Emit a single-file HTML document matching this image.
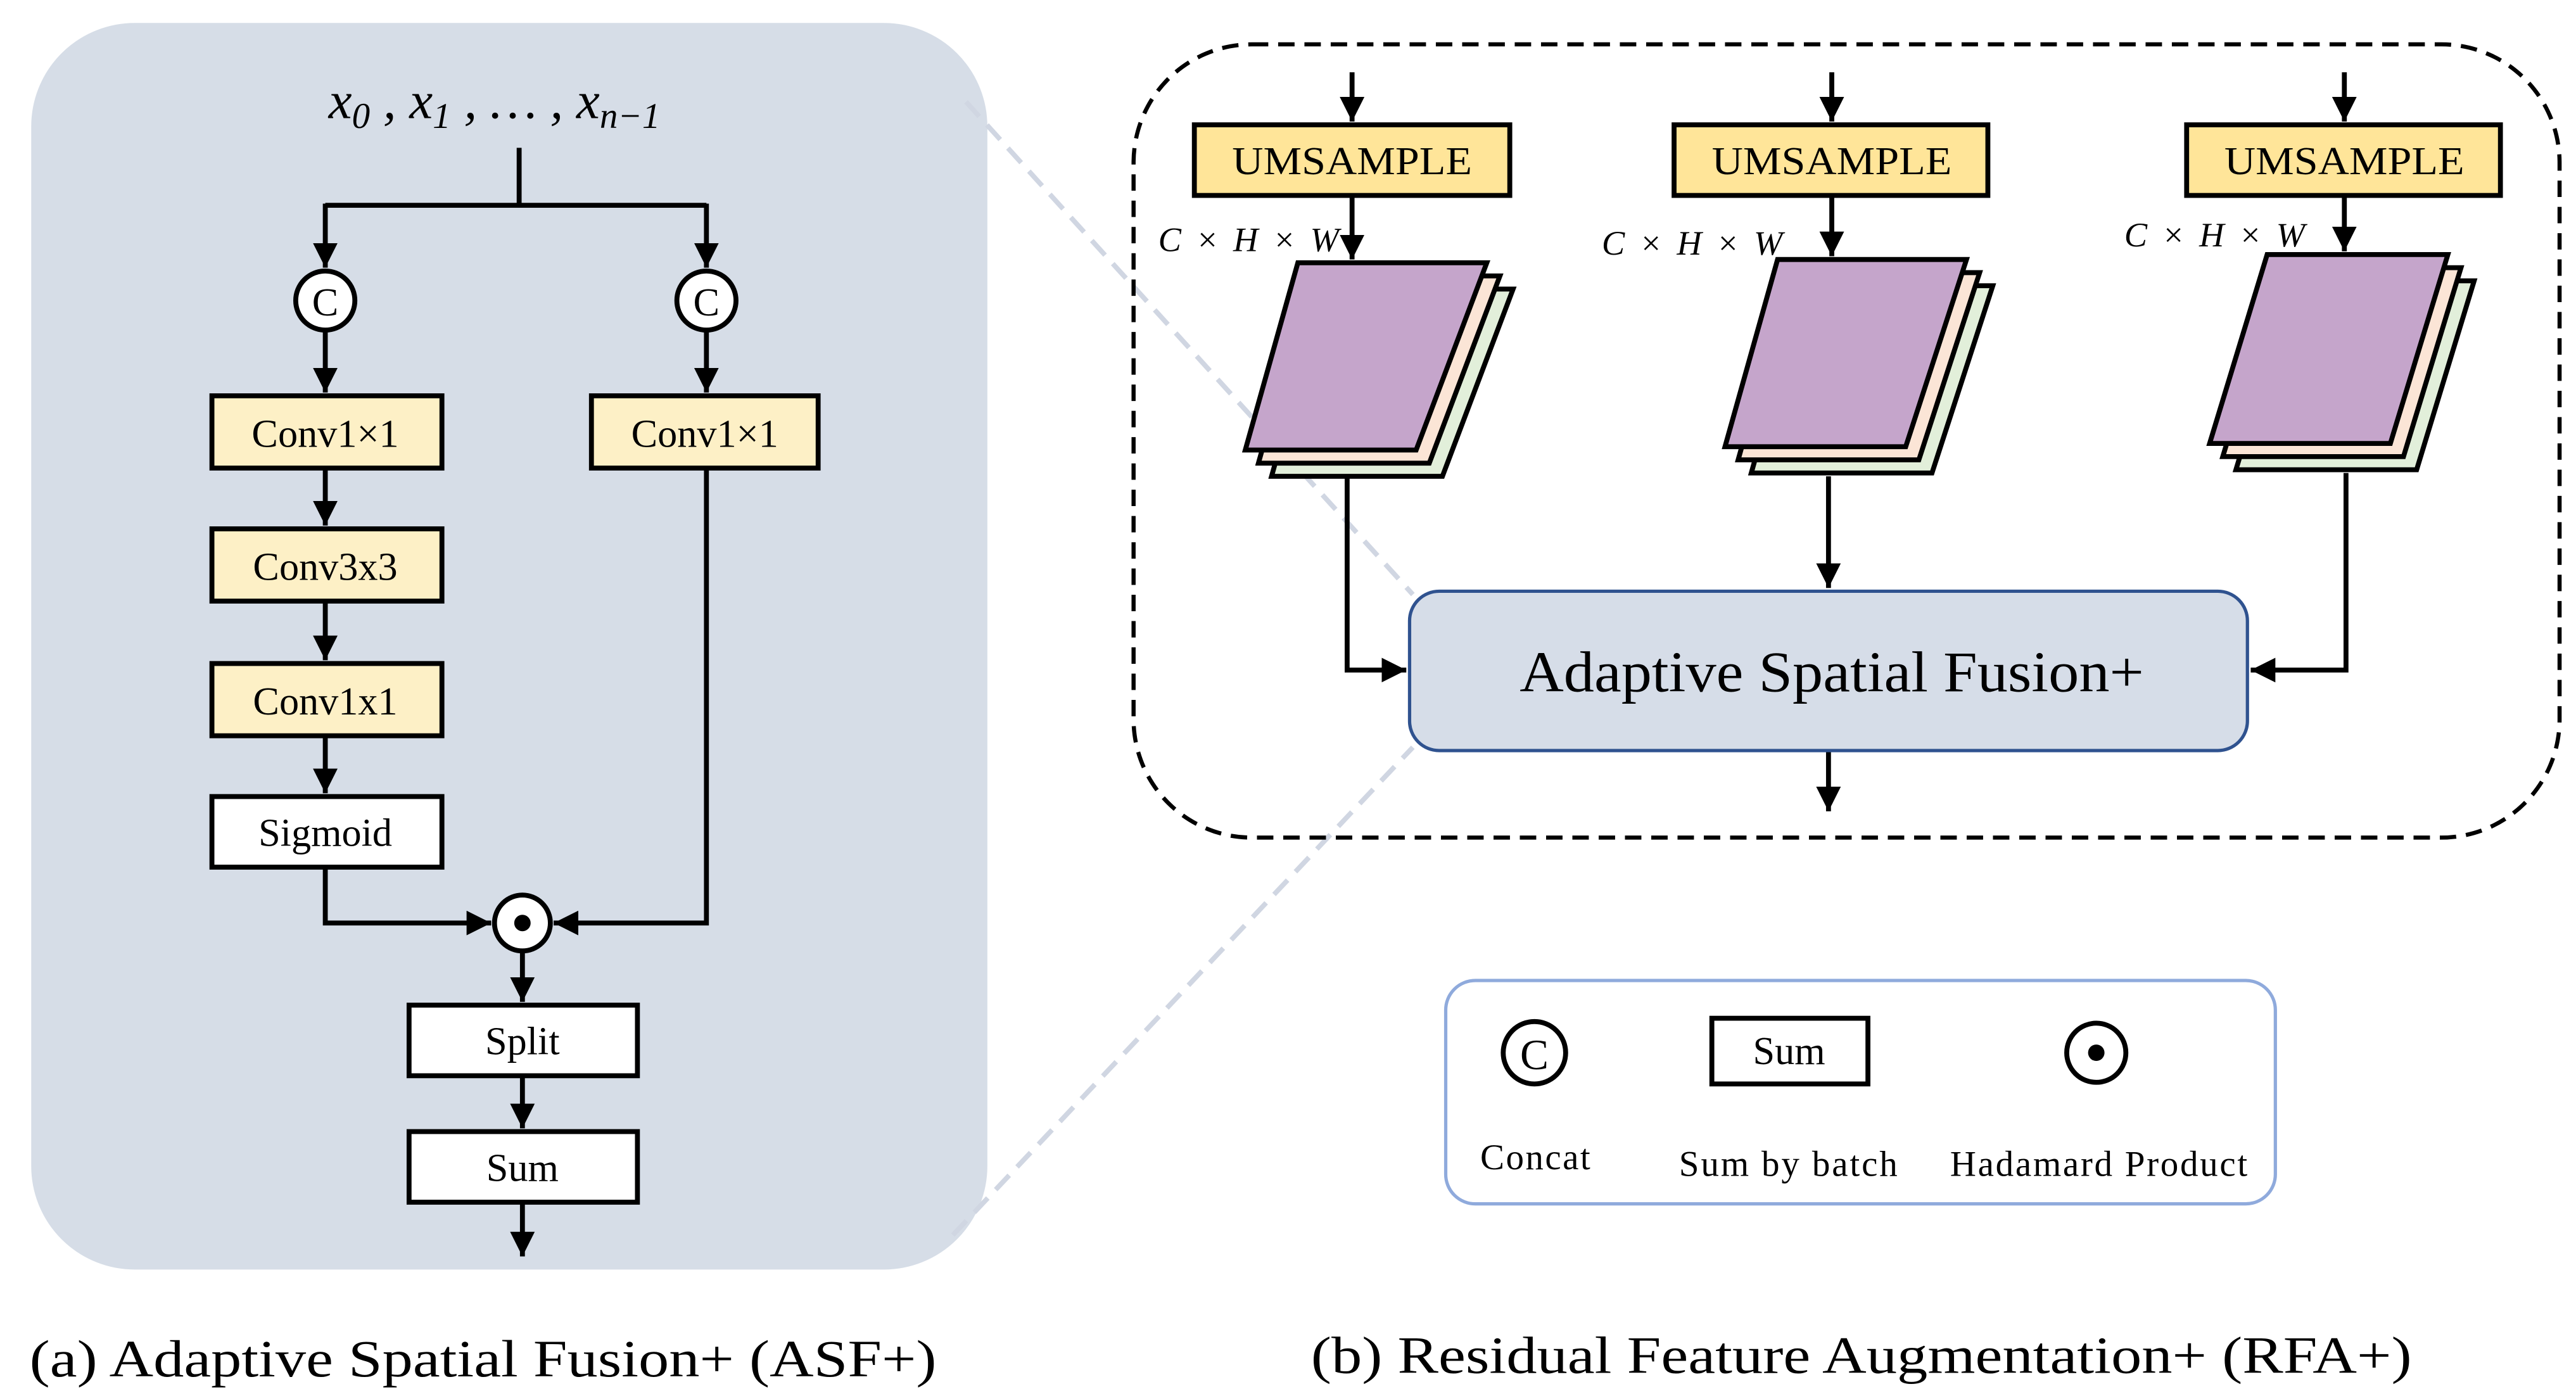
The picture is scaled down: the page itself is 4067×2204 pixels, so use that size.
<!DOCTYPE html>
<html><head><meta charset="utf-8"><style>
html,body{margin:0;padding:0;background:#fff;}
svg{display:block;}
text{font-family:"Liberation Serif",serif;fill:#000;}
</style></head><body>
<svg width="4067" height="2204" viewBox="0 0 1568 850" preserveAspectRatio="none" xmlns="http://www.w3.org/2000/svg">
<defs>
<marker id="a" viewBox="0 0 10 10" refX="10" refY="5" markerWidth="5" markerHeight="5" orient="auto" markerUnits="strokeWidth">
<path d="M0,0 L10,5 L0,10 z" fill="#000"/></marker>
</defs>
<!-- left panel -->
<rect x="20" y="15" width="580" height="757" rx="62" fill="#d6dde7" stroke="#d6dde7" stroke-width="2"/>
<text x="200" y="72" font-size="32" font-style="italic">x<tspan font-size="22" dy="6">0</tspan><tspan dy="-6"> , x</tspan><tspan font-size="22" dy="6">1</tspan><tspan dy="-6"> , … , x</tspan><tspan font-size="22" dy="6">n−1</tspan></text>
<g stroke="#000" stroke-width="3" fill="none">
<path d="M316,90 V125 M198,125 H430"/>
<path d="M198,124 V163" marker-end="url(#a)"/>
<path d="M430,124 V163" marker-end="url(#a)"/>
<path d="M198,201 V239" marker-end="url(#a)"/>
<path d="M430,201 V239" marker-end="url(#a)"/>
<path d="M198,285 V320" marker-end="url(#a)"/>
<path d="M198,366 V402" marker-end="url(#a)"/>
<path d="M198,448 V483" marker-end="url(#a)"/>
<path d="M198,528 V562 H299" marker-end="url(#a)"/>
<path d="M430,285 V562 H337" marker-end="url(#a)"/>
<path d="M318,579 V610" marker-end="url(#a)"/>
<path d="M318,655 V687" marker-end="url(#a)"/>
<path d="M318,732 V765" marker-end="url(#a)"/>
</g>
<g stroke="#000" stroke-width="3">
<circle cx="198" cy="183" r="18" fill="#fff"/>
<circle cx="430" cy="183" r="18" fill="#fff"/>
<circle cx="318" cy="562" r="17" fill="#fff"/>
<rect x="129" y="241" width="140" height="44" fill="#fdf0c6"/>
<rect x="360" y="241" width="138" height="44" fill="#fdf0c6"/>
<rect x="129" y="322" width="140" height="44" fill="#fdf0c6"/>
<rect x="129" y="404" width="140" height="44" fill="#fdf0c6"/>
<rect x="129" y="485" width="140" height="43" fill="#fff"/>
<rect x="249" y="612" width="139" height="43" fill="#fff"/>
<rect x="249" y="689" width="139" height="43" fill="#fff"/>
</g>
<circle cx="318" cy="562" r="5" fill="#000"/>
<g font-size="24" text-anchor="middle">
<text x="198" y="192">C</text><text x="430" y="192">C</text>
<text x="198" y="272">Conv1×1</text>
<text x="429" y="272">Conv1×1</text>
<text x="198" y="353">Conv3x3</text>
<text x="198" y="435">Conv1x1</text>
<text x="198" y="515">Sigmoid</text>
<text x="318" y="642">Split</text>
<text x="318" y="719">Sum</text>
</g>
<text x="18" y="838" font-size="32" textLength="552" lengthAdjust="spacingAndGlyphs">(a) Adaptive Spatial Fusion+ (ASF+)</text>
<!-- connector dashes -->
<g stroke="#d0d6e2" stroke-width="3" stroke-dasharray="12 7">
<path d="M588,62 L860,362"/>
<path d="M580,752 L860,455"/>
</g>
<!-- right panel -->
<rect x="690" y="27" width="868" height="483" rx="72" fill="none" stroke="#000" stroke-width="2.5" stroke-dasharray="10 6"/>
<g stroke="#000" stroke-width="3" fill="none">
<path d="M823,44 V74" marker-end="url(#a)"/>
<path d="M1115,44 V74" marker-end="url(#a)"/>
<path d="M1427,44 V74" marker-end="url(#a)"/>
<path d="M823,119 V158" marker-end="url(#a)"/>
<path d="M1115,119 V156" marker-end="url(#a)"/>
<path d="M1427,119 V153" marker-end="url(#a)"/>
<path d="M820,290 V408 H856" marker-end="url(#a)"/>
<path d="M1113,290 V358" marker-end="url(#a)"/>
<path d="M1428,288 V408 H1370" marker-end="url(#a)"/>
<path d="M1113,457 V494" marker-end="url(#a)"/>
</g>
<g stroke="#000" stroke-width="3">
<rect x="727" y="76" width="192" height="43" fill="#ffe599"/>
<rect x="1019" y="76" width="191" height="43" fill="#ffe599"/>
<rect x="1331" y="76" width="191" height="43" fill="#ffe599"/>
</g>
<g font-size="24" text-anchor="middle">
<text x="823" y="106" textLength="146" lengthAdjust="spacingAndGlyphs">UMSAMPLE</text>
<text x="1115" y="106" textLength="146" lengthAdjust="spacingAndGlyphs">UMSAMPLE</text>
<text x="1427" y="106" textLength="146" lengthAdjust="spacingAndGlyphs">UMSAMPLE</text>
</g>
<g font-size="21" font-style="italic">
<text x="705" y="153" textLength="110">C × H × W</text>
<text x="975" y="155" textLength="110">C × H × W</text>
<text x="1293" y="150" textLength="110">C × H × W</text>
</g>
<!-- stacks -->
<g stroke="#000" stroke-width="3" stroke-linejoin="miter">
<g>
<polygon points="806,176 921,176 878,290 774,290" fill="#e2efda"/>
<polygon points="798,168 913,168 870,282 766,282" fill="#fbe5d6"/>
<polygon points="790,160 905,160 862,274 758,274" fill="#c5a5cb"/>
</g>
<g>
<polygon points="1098,174 1213,174 1176,288 1066,288" fill="#e2efda"/>
<polygon points="1090,166 1205,166 1168,280 1058,280" fill="#fbe5d6"/>
<polygon points="1082,158 1197,158 1160,272 1050,272" fill="#c5a5cb"/>
</g>
<g>
<polygon points="1396,171 1506,171 1471,286 1361,286" fill="#e2efda"/>
<polygon points="1388,163 1498,163 1463,278 1353,278" fill="#fbe5d6"/>
<polygon points="1380,155 1490,155 1455,270 1345,270" fill="#c5a5cb"/>
</g>
</g>
<rect x="858" y="360" width="510" height="97" rx="18" fill="#d6dde8" stroke="#2f528f" stroke-width="2"/>
<text x="925" y="421" font-size="35" textLength="380" lengthAdjust="spacingAndGlyphs">Adaptive Spatial Fusion+</text>
<!-- legend -->
<rect x="880" y="597" width="505" height="136" rx="18" fill="#fff" stroke="#8faadc" stroke-width="2"/>
<circle cx="934" cy="641" r="19" fill="#fff" stroke="#000" stroke-width="3"/>
<text x="934" y="651" font-size="26" text-anchor="middle">C</text>
<rect x="1042" y="620" width="95" height="40" fill="#fff" stroke="#000" stroke-width="3"/>
<text x="1089" y="648" font-size="24" text-anchor="middle">Sum</text>
<circle cx="1276" cy="641" r="18" fill="#fff" stroke="#000" stroke-width="3"/>
<circle cx="1276" cy="641" r="5" fill="#000"/>
<g font-size="22">
<text x="901" y="712" textLength="67">Concat</text>
<text x="1022" y="716" textLength="133">Sum by batch</text>
<text x="1187" y="716" textLength="181">Hadamard  Product</text>
</g>
<text x="798" y="836" font-size="32" textLength="670" lengthAdjust="spacingAndGlyphs">(b) Residual Feature Augmentation+  (RFA+)</text>
</svg>
</body></html>
